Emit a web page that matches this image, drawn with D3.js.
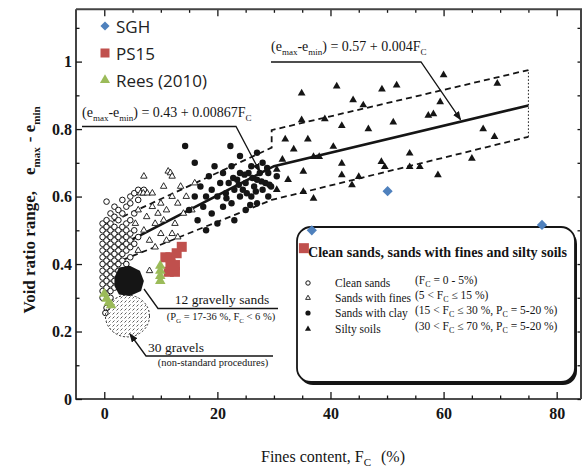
<!DOCTYPE html>
<html>
<head>
<meta charset="utf-8">
<script src="https://cdn.jsdelivr.net/npm/d3@7"></script>
<style>
html, body { margin: 0; padding: 0; background: #fff; }
svg { display: block; font-family: "Liberation Serif", "DejaVu Serif", serif; }
</style>
</head>
<body>
<div id="chart"></div>
<script>
// axis ticks
const xMajor = [0, 20, 40, 60, 80];
const xMinor = [5, 10, 15, 25, 30, 35, 45, 50, 55, 65, 70, 75];
const yMajor = [0, 0.2, 0.4, 0.6, 0.8, 1];
const yMajorLabels = ['0', '0.2', '0.4', '0.6', '0.8', '1'];
const yMinor = [0.1, 0.3, 0.5, 0.7, 0.9, 1.1];

// overlay series
const sghX = [36.7, 50.1, 77.4];
const sghY = [0.500, 0.616, 0.516];
const ps15X = [10.8, 11.4, 11.7, 11.7, 12.5, 12.5, 12.8, 13.7, 35.3];
const ps15Y = [0.420, 0.377, 0.420, 0.400, 0.377, 0.397, 0.432, 0.451, 0.447];
const reesX = [0.0, 0.4, 0.8, 1.2, 9.9, 9.9, 9.9, 9.9];
const reesY = [0.312, 0.297, 0.286, 0.278, 0.395, 0.380, 0.365, 0.350];

// background figure: fitted lines and bounds
const fitX = [0, 30, 75];
const fitY = [0.43, 0.69, 0.87];
const upperX = [0, 29.6, 29.6, 75];
const upperY = [0.515, 0.745, 0.797, 0.975];
const lowerX = [0, 29.6, 75];
const lowerY = [0.39, 0.59, 0.777];
const endX = [75, 75];
const endY = [0.777, 0.975];

// clean sands (open circles), one column per x
const cleanX = [-0.3, 0.4, 1.1, 1.8, 2.5, 3.2, 3.9, 4.6, 5.3, 6.0, 7.0, 0.2];
const cleanY = [
    [0.30, 0.32, 0.34, 0.36, 0.38, 0.40, 0.42, 0.44, 0.46, 0.48, 0.50, 0.52],
    [0.27, 0.31, 0.33, 0.35, 0.37, 0.39, 0.41, 0.43, 0.45, 0.47, 0.49, 0.51, 0.53, 0.585],
    [0.30, 0.32, 0.34, 0.36, 0.38, 0.40, 0.42, 0.44, 0.46, 0.48, 0.50, 0.52, 0.55],
    [0.33, 0.35, 0.37, 0.39, 0.41, 0.43, 0.45, 0.47, 0.49, 0.51, 0.54, 0.57],
    [0.36, 0.38, 0.40, 0.42, 0.44, 0.46, 0.48, 0.50, 0.53, 0.56],
    [0.41, 0.43, 0.45, 0.47, 0.49, 0.51, 0.55, 0.59],
    [0.40, 0.44, 0.46, 0.48, 0.50, 0.52, 0.57],
    [0.42, 0.45, 0.47, 0.49, 0.53, 0.58, 0.60],
    [0.46, 0.50, 0.55, 0.61],
    [0.48, 0.59, 0.62],
    [0.62],
    [0.255]
];

// sands with fines (open triangles)
const finesX = [5.5, 6.0, 6.4, 6.9, 7.6, 8.5, 7.0, 7.5, 8.0, 8.5, 9.0, 9.5, 10.0, 10.0, 10.5, 11.0, 11.3, 11.7, 12.0, 12.0, 12.5, 13.0, 13.5, 14.0, 14.5, 9.0, 11.0, 13.0, 6.0, 15.5, 16.0, 7.0, 10.5, 8.0, 12.0];
const finesY = [0.52, 0.56, 0.61, 0.61, 0.61, 0.61, 0.50, 0.54, 0.47, 0.57, 0.52, 0.55, 0.49, 0.58, 0.53, 0.56, 0.675, 0.67, 0.66, 0.60, 0.52, 0.58, 0.63, 0.55, 0.60, 0.45, 0.47, 0.48, 0.44, 0.56, 0.64, 0.66, 0.63, 0.38, 0.49];

// sands with clay (filled circles)
const clayX = [14.3, 22.3, 15, 16, 16.5, 17, 17.5, 18, 18.5, 19, 19, 19.5, 20, 20.5, 21, 21, 21.5, 22, 22.5, 22.5, 23, 23.5, 24, 24, 24.5, 25, 25, 25.5, 26, 26, 26.5, 27, 27, 27.5, 28, 28, 28.5, 29, 29, 18, 20, 23, 16, 24, 27, 29.5, 30.5,
    23.8, 25.2, 26.2, 27.8, 28.8, 22.8, 24.8, 26.8, 29.2, 21.6, 25.8];
const clayY = [0.75, 0.75, 0.56, 0.60, 0.53, 0.63, 0.57, 0.60, 0.66, 0.55, 0.62, 0.69, 0.60, 0.64, 0.57, 0.67, 0.61, 0.64, 0.58, 0.69, 0.62, 0.65, 0.60, 0.67, 0.62, 0.56, 0.64, 0.67, 0.60, 0.69, 0.63, 0.65, 0.58, 0.67, 0.62, 0.70, 0.64, 0.60, 0.67, 0.50, 0.52, 0.53, 0.70, 0.72, 0.73, 0.63, 0.66,
    0.635, 0.61, 0.655, 0.645, 0.685, 0.655, 0.665, 0.615, 0.635, 0.595, 0.575];

// silty soils (filled triangles)
const siltX = [34.9, 41.1, 49.1, 51.7, 60.0, 69.5, 45.8, 59.4, 34.9, 39.0, 42.0, 46.7, 51.1, 57.3, 58.2, 67.0, 69.0, 40.5, 37.0, 38.0, 35.2, 42.0, 42.0, 43.8, 45.0, 49.0, 49.6, 54.0, 54.0, 55.8, 59.0, 65.0, 35.2, 37.0, 30.5, 31.5, 32.5, 33.5, 30.5, 32.0, 36.0, 44.0];
const siltY = [0.906, 0.927, 0.918, 0.930, 0.960, 0.935, 0.871, 0.880, 0.827, 0.830, 0.810, 0.800, 0.820, 0.840, 0.845, 0.800, 0.777, 0.748, 0.718, 0.718, 0.674, 0.698, 0.664, 0.634, 0.659, 0.703, 0.688, 0.728, 0.688, 0.688, 0.664, 0.713, 0.614, 0.594, 0.680, 0.710, 0.650, 0.740, 0.620, 0.770, 0.770, 0.886];

// special groups
const gravellyX = [1.8, 2.6, 4.5, 6.3, 7.0, 6.5, 4.5, 2.6, 1.8];
const gravellyY = [0.360, 0.390, 0.395, 0.380, 0.350, 0.320, 0.305, 0.310, 0.335];
const gravelCentre = [4.1, 0.246];
const gravelRadius = [3.9, 0.062];

const BLUE = '#4f81bd', RED = '#c0504d', GREEN = '#9bbb59', INK = '#151515';

const svg = d3.select('#chart').append('svg').attr('width', 582).attr('height', 475);
const x = d3.scaleLinear().domain([-5, 84.3]).range([76, 581]);
const y = d3.scaleLinear().domain([0, 1.155]).range([399, 9.3]);
const line = d3.line().x(d => x(d[0])).y(d => y(d[1]));
const zip = (a, b) => a.map((v, i) => [v, b[i]]);

const defs = svg.append('defs');
defs.append('marker').attr('id', 'arrow').attr('markerUnits', 'userSpaceOnUse')
    .attr('markerWidth', 9).attr('markerHeight', 7).attr('refX', 8).attr('refY', 3.5).attr('orient', 'auto')
    .append('path').attr('d', 'M0,0 L9,3.5 L0,7 z').attr('fill', INK);
const pat = defs.append('pattern').attr('id', 'dots').attr('patternUnits', 'userSpaceOnUse')
    .attr('width', 4).attr('height', 4);
pat.append('path').attr('d', 'M0.5,2.5 L2.5,0.5').attr('stroke', '#333').attr('stroke-width', 0.8);

drawAxes();
drawFits();
drawScan();
drawAnnotations();
drawBox();
drawOverlay();
drawLegend();

function drawAxes() {
    const style = g => {
        g.select('.domain').remove();
        g.selectAll('line').attr('stroke', INK).attr('stroke-width', 1.3);
    };
    svg.append('g').attr('transform', 'translate(0,399)')
        .call(d3.axisBottom(x).tickValues(xMajor).tickSize(-7).tickPadding(9).tickFormat(d3.format('d')))
        .call(style)
        .selectAll('text').attr('fill', INK).style('font-family', 'Liberation Serif').style('font-size', '16px').style('font-weight', 'bold');
    svg.append('g').attr('transform', 'translate(0,399)')
        .call(d3.axisBottom(x).tickValues(xMinor).tickSize(-3.5).tickFormat('')).call(style);
    svg.append('g').attr('transform', 'translate(0,9.3)')
        .call(d3.axisTop(x).tickValues(xMajor).tickSize(-7).tickFormat('')).call(style);
    svg.append('g').attr('transform', 'translate(0,9.3)')
        .call(d3.axisTop(x).tickValues(xMinor).tickSize(-3.5).tickFormat('')).call(style);

    svg.append('g').attr('transform', 'translate(76,0)')
        .call(d3.axisLeft(y).tickValues(yMajor).tickSize(-6).tickPadding(4).tickFormat((d, i) => yMajorLabels[i]))
        .call(style)
        .selectAll('text').attr('fill', INK).style('font-family', 'Liberation Serif').style('font-size', '16px').style('font-weight', 'bold');
    svg.append('g').attr('transform', 'translate(76,0)')
        .call(d3.axisLeft(y).tickValues(yMinor).tickSize(-3.5).tickFormat('')).call(style);
    svg.append('g').attr('transform', 'translate(581,0)')
        .call(d3.axisRight(y).tickValues(yMajor.concat(yMinor)).tickSize(-3.5).tickFormat('')).call(style);

    // frame
    svg.append('path')
        .attr('d', `M${x(-5)},${y(1.155)} L${x(-5)},${y(0)} L${x(84.3)},${y(0)}`)
        .attr('fill', 'none').attr('stroke', INK).attr('stroke-width', 1.6);
    svg.append('path')
        .attr('d', `M${x(-5)},${y(1.155)} L${x(84.3)},${y(1.155)} L${x(84.3)},${y(0)}`)
        .attr('fill', 'none').attr('stroke', '#444').attr('stroke-width', 2);

    // axis titles
    const xt = svg.append('text').attr('x', 333).attr('y', 462).attr('text-anchor', 'middle')
        .attr('fill', INK).style('font-size', '16px');
    xt.append('tspan').text('Fines content, F');
    xt.append('tspan').attr('dy', 4).style('font-size', '11px').text('C');
    xt.append('tspan').attr('dy', -4).attr('dx', 10).text('(%)');

    const yt = svg.append('text').attr('transform', 'translate(35,210) rotate(-90)')
        .attr('text-anchor', 'middle').attr('fill', INK)
        .style('font-size', '17px').style('font-weight', 'bold');
    yt.append('tspan').text('Void ratio range,');
    yt.append('tspan').attr('dx', 16).text('e');
    yt.append('tspan').attr('dy', 5).style('font-size', '11px').text('max');
    yt.append('tspan').attr('dy', -5).attr('dx', 5).text('-  e');
    yt.append('tspan').attr('dy', 5).style('font-size', '11px').text('min');
}

function drawFits() {
    svg.append('path').attr('d', line(zip(upperX, upperY)))
        .attr('fill', 'none').attr('stroke', INK).attr('stroke-width', 1.8).attr('stroke-dasharray', '6,4');
    svg.append('path').attr('d', line(zip(lowerX, lowerY)))
        .attr('fill', 'none').attr('stroke', INK).attr('stroke-width', 1.8).attr('stroke-dasharray', '6,4');
    svg.append('path').attr('d', line(zip(endX, endY)))
        .attr('fill', 'none').attr('stroke', INK).attr('stroke-width', 1).attr('stroke-dasharray', '1.5,2');
    svg.append('path').attr('d', line(zip(fitX, fitY)))
        .attr('fill', 'none').attr('stroke', INK).attr('stroke-width', 2.6);
}

function drawScan() {
    const clean = [];
    cleanX.forEach((cx, i) => cleanY[i].forEach(v => clean.push([cx, v])));
    svg.append('g').selectAll('circle').data(clean).enter().append('circle')
        .attr('cx', d => x(d[0])).attr('cy', d => y(d[1])).attr('r', 2.8)
        .attr('fill', '#fff').attr('stroke', INK).attr('stroke-width', 1);

    const tri = d3.symbol().type(d3.symbolTriangle);
    svg.append('g').selectAll('path').data(zip(finesX, finesY)).enter().append('path')
        .attr('transform', d => `translate(${x(d[0])},${y(d[1])})`)
        .attr('d', tri.size(18)()).attr('fill', '#fff').attr('stroke', INK).attr('stroke-width', 0.9);

    svg.append('g').selectAll('circle').data(zip(clayX, clayY)).enter().append('circle')
        .attr('cx', d => x(d[0])).attr('cy', d => y(d[1])).attr('r', 3.2).attr('fill', INK);

    svg.append('g').selectAll('path').data(zip(siltX, siltY)).enter().append('path')
        .attr('transform', d => `translate(${x(d[0])},${y(d[1])})`)
        .attr('d', tri.size(26)()).attr('fill', INK);

    // 30 gravels region
    svg.append('ellipse')
        .attr('cx', x(gravelCentre[0])).attr('cy', y(gravelCentre[1]))
        .attr('rx', x(gravelCentre[0] + gravelRadius[0]) - x(gravelCentre[0]))
        .attr('ry', y(gravelCentre[1] - gravelRadius[1]) - y(gravelCentre[1]))
        .attr('fill', 'url(#dots)').attr('stroke', '#333').attr('stroke-width', 1).attr('stroke-dasharray', '2,2');

    // 12 gravelly sands
    svg.append('path').attr('d', line(zip(gravellyX, gravellyY)) + 'Z').attr('fill', INK);
}

function drawAnnotations() {
    const lead = (pts, arrow) => {
        const p = svg.append('path').attr('d', d3.line()(pts))
            .attr('fill', 'none').attr('stroke', INK).attr('stroke-width', 1.3);
        if (arrow) p.attr('marker-end', 'url(#arrow)');
    };
    const eq = (px, py, a, b) => {
        const t = svg.append('text').attr('x', px).attr('y', py).attr('fill', INK).style('font-size', '14px');
        t.append('tspan').text('(e');
        t.append('tspan').attr('dy', 4).style('font-size', '9px').text('max');
        t.append('tspan').attr('dy', -4).text('-e');
        t.append('tspan').attr('dy', 4).style('font-size', '9px').text('min');
        t.append('tspan').attr('dy', -4).text(`) = ${a} + ${b}F`);
        t.append('tspan').attr('dy', 4).style('font-size', '9px').text('C');
    };

    eq(82, 117, '0.43', '0.00867');
    lead([[82, 126.5], [236, 126.5], [x(27.5), y(0.43 + 0.00867 * 27.5) - 2]], true);

    eq(271, 51, '0.57', '0.004');
    lead([[271, 62], [421, 62], [x(63), y(0.57 + 0.004 * 63) - 2]], true);

    svg.append('text').attr('x', 222).attr('y', 304).attr('text-anchor', 'middle')
        .attr('fill', INK).style('font-size', '13.5px').text('12 gravelly sands');
    const g2 = svg.append('text').attr('x', 221).attr('y', 320).attr('text-anchor', 'middle')
        .attr('fill', INK).style('font-size', '10.5px');
    g2.append('tspan').text('(P');
    g2.append('tspan').attr('dy', 3).style('font-size', '7px').text('G');
    g2.append('tspan').attr('dy', -3).text(' = 17-36 %, F');
    g2.append('tspan').attr('dy', 3).style('font-size', '7px').text('C');
    g2.append('tspan').attr('dy', -3).text(' < 6 %)');
    lead([[278, 308.5], [158, 308.5], [144, 289]], false);

    svg.append('text').attr('x', 176).attr('y', 352).attr('text-anchor', 'middle')
        .attr('fill', INK).style('font-size', '13.5px').text('30 gravels');
    svg.append('text').attr('x', 213).attr('y', 366).attr('text-anchor', 'middle')
        .attr('fill', INK).style('font-size', '10.5px').text('(non-standard procedures)');
    lead([[273, 356], [146, 356], [130, 334]], true);
}

function drawBox() {
    const bx = 297, by = 227, bw = 278, bh = 155;
    svg.append('rect').attr('x', bx + 2).attr('y', by + 3).attr('width', bw).attr('height', bh)
        .attr('rx', 14).attr('fill', INK);
    svg.append('rect').attr('x', bx).attr('y', by).attr('width', bw).attr('height', bh)
        .attr('rx', 14).attr('fill', '#fff').attr('stroke', INK).attr('stroke-width', 1.8);

    svg.append('text').attr('x', 308).attr('y', 257).attr('fill', INK)
        .attr('textLength', 259).attr('lengthAdjust', 'spacingAndGlyphs')
        .style('font-size', '14px').style('font-weight', 'bold')
        .text('Clean sands, sands with fines and silty soils');

    const rows = [
        { name: 'Clean sands', cond: [['(F', ''], ['C', 's'], [' = 0 - 5%)', '']] },
        { name: 'Sands with fines', cond: [['(5 < F', ''], ['C', 's'], [' \u2264 15 %)', '']] },
        { name: 'Sands with clay', cond: [['(15 < F', ''], ['C', 's'], [' \u2264 30 %, P', ''], ['C', 's'], [' = 5-20 %)', '']] },
        { name: 'Silty soils', cond: [['(30 < F', ''], ['C', 's'], [' \u2264 70 %, P', ''], ['C', 's'], [' = 5-20 %)', '']] }
    ];
    const rowY = [283, 298, 313, 329];
    const tri = d3.symbol().type(d3.symbolTriangle);
    rows.forEach((r, i) => {
        const cy = rowY[i];
        if (i === 0) svg.append('circle').attr('cx', 308).attr('cy', cy).attr('r', 2.2)
            .attr('fill', '#fff').attr('stroke', INK).attr('stroke-width', 1);
        if (i === 1) svg.append('path').attr('transform', `translate(308,${cy})`).attr('d', tri.size(10)())
            .attr('fill', '#fff').attr('stroke', INK).attr('stroke-width', 0.9);
        if (i === 2) svg.append('circle').attr('cx', 308).attr('cy', cy).attr('r', 2.6).attr('fill', INK);
        if (i === 3) svg.append('path').attr('transform', `translate(308,${cy})`).attr('d', tri.size(16)())
            .attr('fill', INK);

        svg.append('text').attr('x', 335).attr('y', cy + 4).attr('fill', INK)
            .style('font-size', '11.5px').text(r.name);
        const t = svg.append('text').attr('x', 415).attr('y', cy + 4).attr('fill', INK).style('font-size', '11.5px');
        r.cond.forEach(([s, k]) => {
            if (k === 's') t.append('tspan').attr('dy', 3).style('font-size', '8px').text(s);
            else t.append('tspan').attr('dy', t.selectAll('tspan').size() ? -3 : 0).text(s);
        });
    });
}

function drawOverlay() {
    const diamond = d3.symbol().type(d3.symbolSquare).size(52);
    svg.append('g').selectAll('path').data(zip(sghX, sghY)).enter().append('path')
        .attr('transform', d => `translate(${x(d[0])},${y(d[1])}) rotate(45)`)
        .attr('d', diamond()).attr('fill', BLUE);

    svg.append('g').selectAll('rect').data(zip(ps15X, ps15Y)).enter().append('rect')
        .attr('x', d => x(d[0]) - 5).attr('y', d => y(d[1]) - 5).attr('width', 10).attr('height', 10)
        .attr('fill', RED);

    const tri = d3.symbol().type(d3.symbolTriangle).size(48);
    svg.append('g').selectAll('path').data(zip(reesX, reesY)).enter().append('path')
        .attr('transform', d => `translate(${x(d[0])},${y(d[1])})`)
        .attr('d', tri()).attr('fill', GREEN);
}

function drawLegend() {
    const items = [
        { name: 'SGH', color: BLUE, kind: 'diamond' },
        { name: 'PS15', color: RED, kind: 'square' },
        { name: 'Rees (2010)', color: GREEN, kind: 'triangle' }
    ];
    const g = svg.append('g').attr('transform', 'translate(105,26)');
    items.forEach((it, i) => {
        const cy = i * 27;
        let p;
        if (it.kind === 'diamond') p = g.append('path').attr('d', d3.symbol().type(d3.symbolSquare).size(42)())
            .attr('transform', `translate(0,${cy}) rotate(45)`);
        if (it.kind === 'square') p = g.append('rect').attr('x', -4.5).attr('y', cy - 4.5).attr('width', 9).attr('height', 9);
        if (it.kind === 'triangle') p = g.append('path').attr('d', d3.symbol().type(d3.symbolTriangle).size(44)())
            .attr('transform', `translate(0,${cy})`);
        p.attr('fill', it.color);
        g.append('text').attr('x', 11).attr('y', cy + 6.5).attr('fill', '#222')
            .style('font-family', '"Open Sans", "Liberation Sans", sans-serif').style('font-size', '17px')
            .text(it.name);
    });
}
</script>
</body>
</html>
